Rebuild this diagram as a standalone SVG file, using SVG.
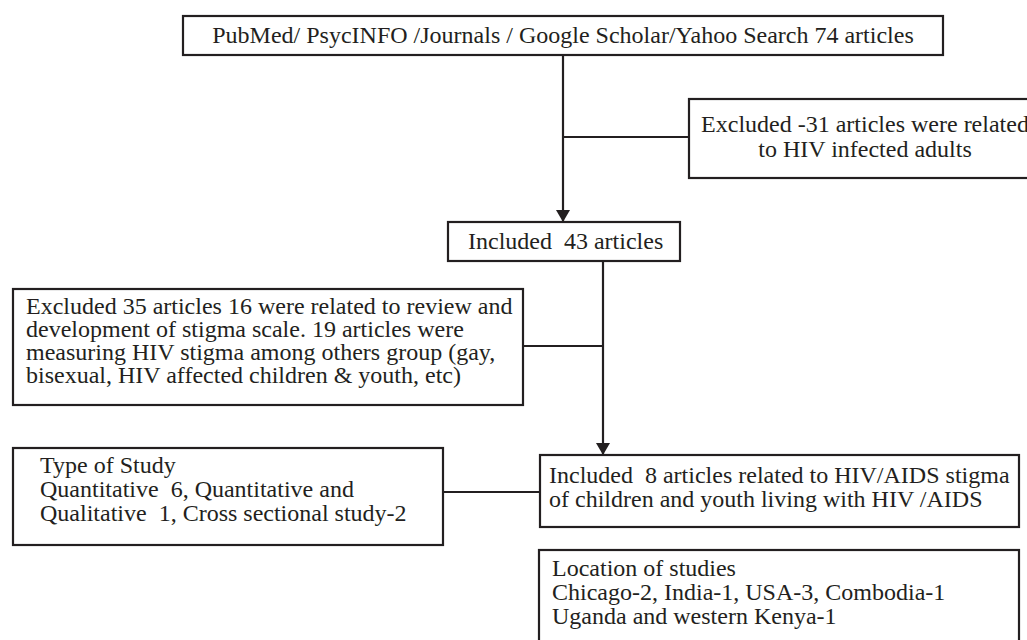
<svg xmlns="http://www.w3.org/2000/svg" width="1027" height="640" viewBox="0 0 1027 640">
  <defs>
    <marker id="arr" viewBox="0 0 12 14" refX="12" refY="7" markerWidth="12" markerHeight="14" markerUnits="userSpaceOnUse" orient="auto">
      <path d="M0,0 L12,7 L0,14 Z" fill="#231f20"/>
    </marker>
    <style>
      .box { fill: #ffffff; stroke: #231f20; stroke-width: 2.2; }
      .t { font-family: "Liberation Serif", "Times New Roman", serif; font-size: 24px; fill: #231f20; }
      .c { text-anchor: middle; }
      .ln { fill: none; stroke: #231f20; stroke-width: 2.2; }
    </style>
  </defs>
  <rect width="1027" height="640" fill="#ffffff"/>

  <g id="connectors">
    <line class="ln" x1="563" y1="55" x2="563" y2="222" marker-end="url(#arr)"/>
    <line class="ln" x1="563" y1="137" x2="689" y2="137"/>
    <line class="ln" x1="603" y1="261" x2="603" y2="455" marker-end="url(#arr)"/>
    <line class="ln" x1="523" y1="346" x2="603" y2="346"/>
    <line class="ln" x1="443" y1="492" x2="540" y2="492"/>
  </g>

  <g id="search">
    <rect class="box" x="183" y="16" width="760" height="39"/>
    <text class="t c" x="563" y="43">PubMed/ PsycINFO /Journals / Google Scholar/Yahoo Search 74 articles</text>
  </g>

  <g id="excluded31">
    <rect class="box" x="689" y="99" width="352" height="79"/>
    <text class="t c" x="865" y="132">Excluded -31 articles were related</text>
    <text class="t c" x="865" y="157">to HIV infected adults</text>
  </g>

  <g id="included43">
    <rect class="box" x="448" y="222" width="232" height="39"/>
    <text class="t" x="468" y="249" xml:space="preserve">Included  43 articles</text>
  </g>

  <g id="excluded35">
    <rect class="box" x="13" y="289" width="510" height="116"/>
    <text class="t" x="26" y="314">Excluded 35 articles 16 were related to review and</text>
    <text class="t" x="26" y="337">development of stigma scale. 19 articles were</text>
    <text class="t" x="26" y="360">measuring HIV stigma among others group (gay,</text>
    <text class="t" x="26" y="383">bisexual, HIV affected children &amp; youth, etc)</text>
  </g>

  <g id="typeofstudy">
    <rect class="box" x="13" y="448" width="430" height="97"/>
    <text class="t" x="40" y="473">Type of Study</text>
    <text class="t" x="40" y="497" xml:space="preserve">Quantitative  6, Quantitative and</text>
    <text class="t" x="40" y="521" xml:space="preserve">Qualitative  1, Cross sectional study-2</text>
  </g>

  <g id="included8">
    <rect class="box" x="540" y="455" width="479" height="72"/>
    <text class="t" x="549" y="483" xml:space="preserve">Included  8 articles related to HIV/AIDS stigma</text>
    <text class="t" x="549" y="507">of children and youth living with HIV /AIDS</text>
  </g>

  <g id="location">
    <rect class="box" x="539" y="550" width="480" height="100"/>
    <text class="t" x="552" y="576">Location of studies</text>
    <text class="t" x="552" y="600">Chicago-2, India-1, USA-3, Combodia-1</text>
    <text class="t" x="552" y="624">Uganda and western Kenya-1</text>
  </g>
</svg>
